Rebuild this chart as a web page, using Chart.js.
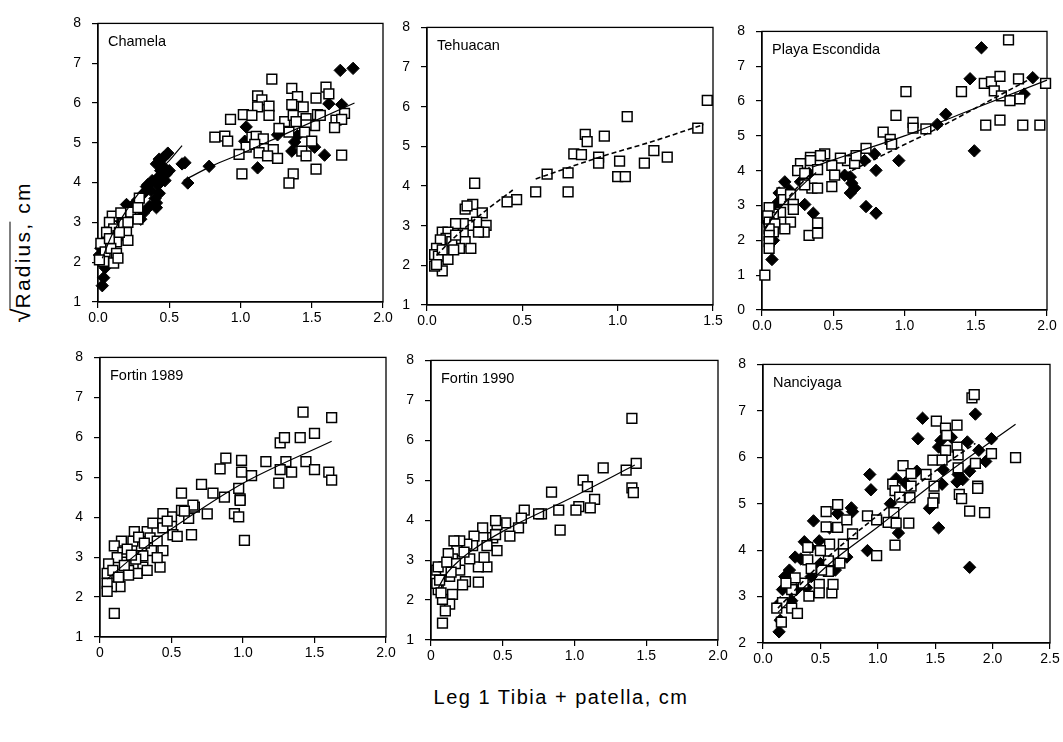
<!DOCTYPE html>
<html lang="en">
<head>
  <meta charset="UTF-8" />
  <title>Radius vs Tibia + patella</title>
  <script src="https://cdn.jsdelivr.net/npm/chart.js"></script>
  <style>
    body {
      margin: 0;
      background: #fff;
      width: 1063px;
      height: 742px;
      overflow: hidden;
      position: relative;
      font-family: 'Liberation Sans', Arial, sans-serif;
    }
    canvas.panel { position: absolute; }
    .ylab {
      position: absolute;
      left: 21px;
      top: 252px;
      transform: translate(-50%, -50%) rotate(-90deg);
      font-size: 21px;
      letter-spacing: 2.2px;
      white-space: nowrap;
    }
    .ylab .root { font-size: 26px; letter-spacing: 0; }
    .ylab .ov { border-top: 1.5px solid #000; }
    .xlab {
      position: absolute;
      left: 561px;
      top: 686px;
      transform: translateX(-50%);
      font-size: 20px;
      letter-spacing: 1.5px;
      white-space: nowrap;
    }
  </style>
</head>
<body>
  <div class="ylab"><span class="root">√</span><span class="ov">Radius,</span> cm</div>
  <div class="xlab">Leg 1 Tibia + patella, cm</div>

  <script>
    // tick labels
    const ticks00to20 = ['0.0', '0.5', '1.0', '1.5', '2.0'];
    const ticks00to15 = ['0.0', '0.5', '1.0', '1.5'];
    const ticks0to20 = ['0', '0.5', '1.0', '1.5', '2.0'];
    const ticks00to25 = ['0.0', '0.5', '1.0', '1.5', '2.0', '2.5'];

    // Chamela
    const chamelaOpen = [
      [1.22,6.6],[1.36,6.37],[1.40,6.16],[1.60,6.40],[1.62,6.23],[1.12,6.18],[1.15,6.08],[1.20,5.92],
      [1.12,5.9],[1.36,5.96],[1.44,5.9],[1.53,6.12],[1.02,5.71],[1.08,5.69],[1.20,5.69],[0.93,5.59],
      [1.31,5.53],[1.37,5.69],[1.46,5.61],[1.54,5.71],[1.56,5.69],[1.67,5.57],[1.73,5.74],[1.71,5.59],
      [1.66,5.38],[1.52,5.43],[1.46,5.45],[1.45,5.27],[1.34,5.27],[1.27,5.36],[0.82,5.14],[0.89,5.17],
      [0.91,5.04],[1.08,5.14],[1.11,5.16],[1.16,5.10],[1.04,4.89],[1.10,4.96],[1.13,4.75],[1.23,4.83],
      [1.26,4.61],[0.99,4.71],[1.19,4.67],[1.50,5.04],[1.43,4.79],[1.46,4.67],[1.71,4.69],[1.01,4.22],
      [1.37,4.22],[1.34,3.99],[1.53,4.34],[1.39,5.53],
      [0.29,3.61],[0.10,3.16],[0.16,3.24],[0.23,3.26],[0.28,3.08],[0.08,3.0],[0.11,2.84],[0.06,2.75],
      [0.18,2.96],[0.21,3.0],[0.20,2.75],[0.14,2.67],[0.21,2.55],[0.13,2.51],[0.02,2.47],[0.05,2.26],
      [0.09,2.35],[0.13,2.22],[0.04,2.02],[0.11,1.98],[0.14,2.1],[0.08,2.59],[0.01,2.06],[0.28,3.37],
      [0.15,2.75]
    ];
    const chamelaFilled = [
      [1.70,6.82],[1.79,6.87],[1.62,5.98],[1.71,5.96],[1.04,5.40],[1.03,5.04],[1.26,5.2],[1.40,5.18],
      [1.38,5.02],[1.36,4.79],[1.52,4.89],[1.59,4.69],[1.12,4.37],[0.78,4.41],[0.63,3.99],[0.59,4.47],
      [0.61,4.5],[0.49,4.74],[0.43,4.59],[0.41,4.47],[0.46,4.39],[0.48,4.22],[0.43,4.14],[0.42,3.94],
      [0.43,3.73],[0.34,3.9],[0.32,3.73],[0.28,3.57],[0.41,3.49],[0.41,3.37],[0.32,3.24],[0.30,3.08],
      [0.20,3.45],[0.37,3.81],[0.50,4.3],[0.46,4.63],[0.05,1.86],[0.04,1.61],[0.03,1.41],[0.02,2.35],
      [0.01,2.18],[0.15,3.08],[0.10,2.67],[0.35,3.95],[0.38,4.05],[0.44,4.3],[0.47,4.05],[0.40,3.6],
      [0.25,3.45],[0.36,3.4]
    ];
    const chamelaFitSmall = [[0.03,2.1],[0.1,2.7],[0.2,3.3],[0.3,3.8],[0.4,4.2],[0.5,4.55],[0.59,4.93]];
    const chamelaFitLarge = [[0.6,4.05],[0.8,4.42],[1.0,4.72],[1.3,5.2],[1.8,6.0]];

    // Tehuacan
    const tehuacanOpen = [
      [1.47,6.16],[1.05,5.75],[1.42,5.46],[0.83,5.30],[0.84,5.12],[0.93,5.26],[0.77,4.81],[0.81,4.79],
      [0.90,4.73],[0.90,4.58],[1.01,4.63],[1.19,4.89],[1.26,4.73],[1.14,4.58],[1.00,4.24],[1.04,4.24],
      [0.63,4.30],[0.74,4.33],[0.74,3.85],[0.57,3.85],[0.47,3.66],[0.42,3.6],[0.25,4.07],[0.24,3.54],
      [0.20,3.42],[0.21,3.50],[0.29,3.32],[0.31,3.01],[0.26,3.09],[0.22,3.01],[0.19,3.05],[0.15,3.05],
      [0.30,2.84],[0.27,2.84],[0.19,2.80],[0.20,2.6],[0.23,2.43],[0.17,2.43],[0.08,2.84],[0.11,2.84],
      [0.10,2.68],[0.07,2.64],[0.05,2.43],[0.04,2.27],[0.06,2.23],[0.08,1.86],[0.11,2.15],[0.04,1.98],
      [0.13,2.6],[0.14,2.39],[0.08,2.39],[0.15,2.76],[0.05,2.02]
    ];
    const tehuacanFitSmall = [[0.05,2.25],[0.1,2.5],[0.2,2.95],[0.3,3.35],[0.45,3.9]];
    const tehuacanFitLarge = [[0.57,4.18],[0.9,4.72],[1.2,5.15],[1.45,5.55]];

    // Playa Escondida
    const playaOpen = [
      [1.73,7.76],[1.01,6.27],[1.40,6.27],[1.56,6.51],[1.61,6.55],[1.67,6.71],[1.63,6.29],[1.68,6.15],
      [1.74,6.01],[1.80,6.64],[1.81,6.06],[1.99,6.51],[1.57,5.31],[1.67,5.45],[1.83,5.31],[1.95,5.31],
      [0.94,5.59],[1.06,5.39],[1.06,5.22],[1.15,5.20],[0.85,5.11],[0.90,4.90],[0.91,4.76],[0.73,4.64],
      [0.44,4.48],[0.41,4.43],[0.34,4.38],[0.34,4.29],[0.27,4.2],[0.25,4.0],[0.30,3.92],[0.39,4.03],
      [0.60,4.29],[0.55,4.36],[0.65,4.21],[0.66,4.43],[0.49,4.15],[0.51,3.87],[0.49,3.54],[0.35,3.50],
      [0.39,3.50],[0.14,3.36],[0.15,3.17],[0.20,3.31],[0.22,3.03],[0.22,2.89],[0.13,2.80],[0.08,2.75],
      [0.05,2.94],[0.04,2.70],[0.05,2.52],[0.09,2.47],[0.20,2.52],[0.08,2.24],[0.05,2.33],[0.05,2.14],
      [0.05,1.96],[0.05,1.77],[0.33,2.14],[0.39,2.21],[0.39,2.5],[0.02,1.0],[0.16,2.33],[0.30,3.59]
    ];
    const playaFilled = [
      [1.54,7.53],[1.46,6.64],[1.90,6.67],[1.84,6.2],[1.29,5.62],[1.23,5.33],[1.49,4.57],[0.79,4.48],
      [0.72,4.29],[0.96,4.29],[0.80,4.01],[0.73,2.97],[0.80,2.78],[0.62,3.82],[0.63,3.64],[0.65,3.50],
      [0.62,3.36],[0.58,3.87],[0.36,2.78],[0.30,3.03],[0.16,3.68],[0.11,3.08],[0.08,2.89],[0.27,3.68],
      [0.33,3.92],[0.08,2.0],[0.07,1.45],[0.04,2.52],[0.06,2.24],[0.43,4.43],[0.19,3.45],[0.12,3.36]
    ];
    const playaFitSmall = [[0.02,2.3],[0.1,2.8],[0.2,3.25],[0.3,3.65],[0.38,3.95]];
    const playaFitLarge = [[0.35,4.1],[0.6,4.45],[1.0,5.0],[1.5,5.8],[2.0,6.6]];
    const playaDashSmall = [[0.02,2.35],[0.1,2.8],[0.2,3.3],[0.35,3.95]];
    const playaDashLarge = [[0.58,3.9],[0.8,4.35],[1.0,4.75],[1.2,5.15],[1.5,5.8],[1.92,6.72]];

    // Fortin 1989
    const fortin89Open = [
      [1.42,6.63],[1.62,6.49],[1.26,5.86],[1.29,5.99],[1.40,5.99],[1.50,6.10],[0.88,5.48],[0.84,5.21],
      [0.99,5.42],[0.99,5.13],[1.06,5.04],[1.16,5.39],[1.30,5.39],[1.26,5.19],[1.34,5.13],[1.44,5.39],
      [1.50,5.19],[1.60,5.13],[1.62,4.93],[1.25,4.85],[0.71,4.82],[0.79,4.6],[0.87,4.5],[0.97,4.72],
      [0.98,4.46],[0.98,4.42],[0.94,4.09],[0.97,4.01],[1.01,3.42],[0.75,4.08],[0.66,4.25],[0.64,3.56],
      [0.57,4.6],[0.57,4.17],[0.50,4.01],[0.50,3.77],[0.51,3.56],[0.44,4.09],[0.44,3.73],[0.42,2.75],
      [0.33,3.64],[0.35,3.48],[0.40,3.4],[0.29,3.28],[0.36,3.16],[0.30,3.03],[0.30,2.75],[0.24,3.64],
      [0.23,3.4],[0.25,2.95],[0.26,2.59],[0.20,2.67],[0.15,3.40],[0.10,3.28],[0.16,3.12],[0.12,2.99],
      [0.17,2.79],[0.14,2.26],[0.08,2.26],[0.06,2.83],[0.05,2.59],[0.05,2.34],[0.05,2.14],[0.09,2.67],
      [0.10,1.59],[0.37,3.85],[0.20,2.55],[0.44,3.16],[0.54,3.52],[0.62,3.97],[0.65,4.3],[0.40,2.99],
      [0.33,2.67],[0.27,3.5],[0.19,3.2],[0.13,2.5],[0.22,3.05],[0.31,3.35],[0.47,3.9],[0.59,4.15]
    ];
    const fortin89Fit = [[0.05,2.45],[0.3,3.2],[0.6,3.95],[1.0,4.85],[1.62,5.9]];

    // Fortin 1990
    const fortin90Open = [
      [1.40,6.55],[1.43,5.42],[1.36,5.25],[1.20,5.31],[1.06,5.0],[1.09,4.84],[1.40,4.81],[1.41,4.69],
      [1.14,4.52],[1.11,4.31],[1.03,4.34],[1.01,4.25],[0.84,4.70],[0.89,4.25],[0.90,3.75],[0.77,4.16],
      [0.75,4.16],[0.65,4.25],[0.63,4.05],[0.61,3.81],[0.55,3.60],[0.52,3.93],[0.46,3.89],[0.45,3.99],
      [0.46,3.24],[0.43,3.56],[0.39,2.83],[0.33,2.83],[0.33,2.45],[0.37,3.07],[0.36,3.81],[0.30,3.60],
      [0.29,3.36],[0.27,3.03],[0.24,2.46],[0.25,3.40],[0.20,3.48],[0.18,3.24],[0.20,2.75],[0.16,3.48],
      [0.15,3.03],[0.17,2.91],[0.12,3.16],[0.13,2.59],[0.15,2.14],[0.13,1.90],[0.10,1.73],[0.08,1.42],
      [0.08,2.02],[0.05,2.26],[0.04,2.42],[0.07,2.59],[0.04,2.75],[0.09,2.83],[0.10,2.75],[0.05,2.83],
      [0.07,2.18],[0.22,2.38],[0.45,3.64],[0.39,3.36],[0.11,2.95],[0.14,2.7],[0.06,2.5],[0.23,3.2]
    ];
    const fortin90Fit = [[0.05,2.3],[0.1,2.62],[0.2,3.0],[0.3,3.28],[0.5,3.72],[1.0,4.6],[1.42,5.38]];

    // Nanciyaga
    const nanciyagaOpen = [
      [1.82,7.28],[1.84,7.35],[1.51,6.78],[1.69,6.69],[1.59,6.63],[1.60,6.47],[1.69,6.22],[1.70,6.05],
      [1.59,6.15],[1.99,6.08],[2.20,5.99],[1.48,5.94],[1.56,5.94],[1.85,5.87],[1.70,5.77],[1.22,5.82],
      [1.29,5.65],[1.42,5.63],[1.29,5.38],[1.13,5.42],[1.15,5.28],[1.19,5.14],[1.28,5.13],[1.49,5.38],
      [1.49,5.12],[1.48,5.02],[1.71,5.20],[1.73,5.11],[1.87,5.38],[1.87,5.33],[1.93,4.81],[1.80,4.84],
      [1.14,4.81],[1.09,4.60],[1.16,4.58],[1.27,4.58],[1.15,4.11],[0.99,3.88],[0.91,4.74],[0.99,4.65],
      [0.65,4.98],[0.55,4.83],[0.55,4.50],[0.65,4.49],[0.73,4.65],[0.78,4.35],[0.70,4.13],[0.70,3.92],
      [0.67,3.72],[0.58,4.13],[0.57,3.77],[0.57,3.54],[0.50,3.99],[0.39,4.06],[0.39,3.79],[0.40,3.01],
      [0.49,3.26],[0.49,3.08],[0.60,3.08],[0.35,3.29],[0.28,3.40],[0.25,3.15],[0.17,2.87],[0.25,2.75],
      [0.30,2.64],[0.12,2.75],[0.16,2.45],[0.20,3.29],[0.42,3.6],[0.51,3.57],[0.61,3.26]
    ];
    const nanciyagaFilled = [
      [1.85,6.93],[1.39,6.84],[1.35,6.40],[1.99,6.40],[1.55,6.36],[1.64,6.43],[1.53,6.22],[1.78,6.33],
      [1.88,6.15],[1.94,5.91],[1.80,5.70],[1.70,5.63],[1.69,5.47],[1.74,5.52],[1.57,5.73],[1.34,5.70],
      [1.56,5.42],[1.45,4.90],[1.53,4.48],[1.80,3.63],[0.93,5.63],[0.94,5.30],[1.11,5.00],[1.18,4.37],
      [0.91,3.99],[1.16,5.54],[1.24,5.45],[0.78,4.83],[0.77,4.91],[0.65,4.79],[0.44,4.63],[0.49,4.20],
      [0.36,4.18],[0.41,4.06],[0.33,3.81],[0.63,3.57],[0.73,3.85],[0.50,3.71],[0.28,3.85],[0.19,3.43],
      [0.23,3.57],[0.29,3.15],[0.17,3.15],[0.38,3.19],[0.15,2.87],[0.15,2.49],[0.14,2.24],[0.25,2.91],
      [0.42,3.43],[0.58,4.48]
    ];
    const nanciyagaFit = [[0.13,2.66],[0.6,3.75],[1.0,4.5],[1.6,5.65],[2.2,6.71]];
    const nanciyagaDash = [[0.13,2.75],[0.5,3.7],[1.0,4.75],[1.5,5.7],[1.85,6.3]];

    // panel layout: plot box [left, top, width, height] in page pixels
    const panels = [
      { name: 'Chamela', box: [98, 16, 285, 286], xr: [0, 2, 0.5], yr: [1, 8], xt: ticks00to20,
        open: chamelaOpen, filled: chamelaFilled, solid: [chamelaFitSmall, chamelaFitLarge], dashed: [] },
      { name: 'Tehuacan', box: [427, 20, 286, 285], xr: [0, 1.5, 0.5], yr: [1, 8], xt: ticks00to15,
        open: tehuacanOpen, filled: [], solid: [], dashed: [tehuacanFitSmall, tehuacanFitLarge] },
      { name: 'Playa Escondida', box: [762, 24, 285, 286], xr: [0, 2, 0.5], yr: [0, 8], xt: ticks00to20,
        open: playaOpen, filled: playaFilled, solid: [playaFitSmall, playaFitLarge], dashed: [playaDashSmall, playaDashLarge] },
      { name: 'Fortin 1989', box: [100, 350, 286, 287], xr: [0, 2, 0.5], yr: [1, 8], xt: ticks0to20,
        open: fortin89Open, filled: [], solid: [fortin89Fit], dashed: [] },
      { name: 'Fortin 1990', box: [431, 353, 287, 287], xr: [0, 2, 0.5], yr: [1, 8], xt: ticks0to20,
        open: fortin90Open, filled: [], solid: [fortin90Fit], dashed: [] },
      { name: 'Nanciyaga', box: [763, 357, 287, 286], xr: [0, 2.5, 0.5], yr: [2, 8], xt: ticks00to25,
        open: nanciyagaOpen, filled: nanciyagaFilled, solid: [nanciyagaFit], dashed: [nanciyagaDash] }
    ];

    const FONT = { family: "'Liberation Sans', Arial, sans-serif", size: 14 };
    const AXW = 45, AXH = 35, PADT = 12, PADR = 16;

    const framePlugin = {
      id: 'frame',
      beforeDatasetsDraw(chart, args, opts) {
        const { ctx, chartArea: a } = chart;
        ctx.save();
        ctx.strokeStyle = '#000';
        ctx.lineWidth = 1.3;
        ctx.strokeRect(a.left, a.top, a.right - a.left, a.bottom - a.top);
        ctx.font = "14.5px 'Liberation Sans', Arial, sans-serif";
        ctx.fillStyle = '#000';
        ctx.textBaseline = 'middle';
        ctx.fillText(opts.name, a.left + 10, a.top + 19);
        ctx.restore();
      }
    };

    const pts = arr => arr.map(([x, y]) => ({ x, y }));

    panels.forEach(p => {
      const [L, T, W, H] = p.box;
      const cv = document.createElement('canvas');
      cv.className = 'panel';
      cv.width = W + AXW + PADR;
      cv.height = H + PADT + AXH;
      cv.style.left = (L - AXW) + 'px';
      cv.style.top = (T - PADT) + 'px';
      document.body.appendChild(cv);

      const ds = [];
      p.solid.forEach(seg => ds.push({
        data: pts(seg), showLine: true, pointRadius: 0, borderColor: '#000', borderWidth: 1.2,
        cubicInterpolationMode: 'monotone', clip: false
      }));
      p.dashed.forEach(seg => ds.push({
        data: pts(seg), showLine: true, pointRadius: 0, borderColor: '#000', borderWidth: 1.6,
        borderDash: [5, 3], cubicInterpolationMode: 'monotone', clip: false
      }));
      ds.push({
        data: pts(p.open), pointStyle: 'rect', pointRadius: 6.9,
        backgroundColor: '#fff', borderColor: '#000', borderWidth: 1.5, clip: false
      });
      ds.push({
        data: pts(p.filled), pointStyle: 'rectRot', pointRadius: 6.2,
        backgroundColor: '#000', borderColor: '#000', borderWidth: 1, clip: false
      });

      const [xmin, xmax, xstep] = p.xr;
      new Chart(cv, {
        type: 'scatter',
        data: { datasets: ds },
        options: {
          responsive: false,
          animation: false,
          events: [],
          layout: { padding: { left: 0, top: PADT, right: PADR, bottom: 0 } },
          plugins: { legend: { display: false }, tooltip: { enabled: false }, frame: { name: p.name } },
          scales: {
            x: {
              type: 'linear', min: xmin, max: xmax,
              afterFit(s) { s.height = AXH; },
              ticks: {
                stepSize: xstep, color: '#000', font: FONT, padding: 2, maxRotation: 0, autoSkip: false,
                callback: v => p.xt[Math.round((v - xmin) / xstep)]
              },
              grid: { drawOnChartArea: false, drawTicks: true, tickLength: 6, color: '#000', lineWidth: 1.2 },
              border: { display: true, color: '#000', width: 1.3 }
            },
            y: {
              type: 'linear', min: p.yr[0], max: p.yr[1],
              afterFit(s) { s.width = AXW; },
              ticks: { stepSize: 1, color: '#000', font: FONT, padding: 11 },
              grid: { drawOnChartArea: false, drawTicks: true, tickLength: 6, color: '#000', lineWidth: 1.2 },
              border: { display: true, color: '#000', width: 1.3 }
            }
          }
        },
        plugins: [framePlugin]
      });
    });
  </script>
</body>
</html>
